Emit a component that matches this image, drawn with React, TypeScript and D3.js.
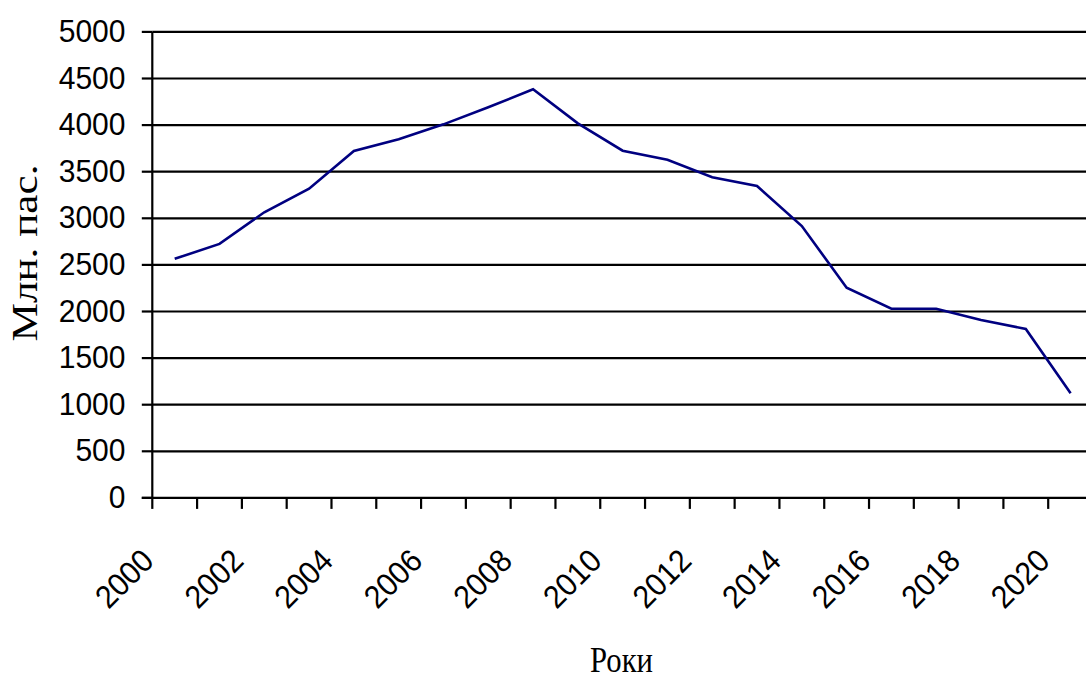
import React, { useEffect, useRef } from "react";
import * as d3 from "d3";

const years: string[] = [
  "2000","2001","2002","2003","2004","2005","2006","2007","2008","2009","2010",
  "2011","2012","2013","2014","2015","2016","2017","2018","2019","2020",
];
const passengers: number[] = [
  2565, 2725, 3065, 3318, 3722, 3848, 4008, 4191, 4384, 4019, 3725,
  3629, 3440, 3347, 2917, 2255, 2030, 2030, 1909, 1812, 1122,
];
const yTicks: number[] = [0, 500, 1000, 1500, 2000, 2500, 3000, 3500, 4000, 4500, 5000];
const xLabelYears: string[] = ["2000","2002","2004","2006","2008","2010","2012","2014","2016","2018","2020"];
const yTitle = "Млн. пас.";
const xTitle = "Роки";

const W = 1086;
const H = 679;

export default function App() {
  const ref = useRef<SVGSVGElement>(null);

  useEffect(() => {
    const svg = d3.select(ref.current);
    svg.selectAll("*").remove();

    const left = 152.3;
    const right = 1093;
    const top = 31.9;
    const bottom = 497.9;

    const x = d3.scaleBand<string>().domain(years).range([left, right]).padding(0);
    const y = d3.scaleLinear().domain([0, 5000]).range([bottom, top]);

    const g = svg.append("g");

    // gridlines
    g.selectAll("line.grid")
      .data(yTicks.filter((t) => t > 0))
      .enter()
      .append("line")
      .attr("x1", left)
      .attr("x2", right)
      .attr("y1", (d) => y(d))
      .attr("y2", (d) => y(d))
      .attr("stroke", "#000")
      .attr("stroke-width", 2.2);

    // y tick marks
    g.selectAll("line.ytick")
      .data(yTicks)
      .enter()
      .append("line")
      .attr("x1", left - 10.5)
      .attr("x2", left)
      .attr("y1", (d) => y(d))
      .attr("y2", (d) => y(d))
      .attr("stroke", "#000")
      .attr("stroke-width", 2.2);

    // y labels
    g.selectAll("text.ylab")
      .data(yTicks)
      .enter()
      .append("text")
      .attr("x", 125.5)
      .attr("y", (d) => y(d) + 10)
      .attr("text-anchor", "end")
      .attr("font-family", "'Liberation Sans', Arial, sans-serif")
      .attr("font-size", 31.5)
      .attr("textLength", (d) => String(d).length * 16.7)
      .attr("lengthAdjust", "spacingAndGlyphs")
      .attr("fill", "#000")
      .text((d) => String(d));

    // axes
    g.append("line")
      .attr("x1", left).attr("x2", left)
      .attr("y1", top).attr("y2", bottom)
      .attr("stroke", "#000").attr("stroke-width", 2.2);
    g.append("line")
      .attr("x1", left - 10.5).attr("x2", right)
      .attr("y1", bottom).attr("y2", bottom)
      .attr("stroke", "#000").attr("stroke-width", 2.2);

    // x tick marks (band boundaries)
    const boundaries = years.map((yr) => x(yr) as number).concat([right]);
    g.selectAll("line.xtick")
      .data(boundaries)
      .enter()
      .append("line")
      .attr("x1", (d) => d)
      .attr("x2", (d) => d)
      .attr("y1", bottom)
      .attr("y2", bottom + 11)
      .attr("stroke", "#000")
      .attr("stroke-width", 2.2);

    // x labels rotated
    g.selectAll("text.xlab")
      .data(xLabelYears)
      .enter()
      .append("text")
      .attr("transform", (d) => {
        const cx = (x(d) as number) + x.bandwidth() / 2 - 27;
        const cy = bottom + 57;
        return `translate(${cx},${cy}) rotate(-45)`;
      })
      .attr("dy", "0.35em")
      .attr("text-anchor", "end")
      .attr("font-family", "'Liberation Sans', Arial, sans-serif")
      .attr("font-size", 32)
      .attr("textLength", 66.7)
      .attr("lengthAdjust", "spacingAndGlyphs")
      .attr("fill", "#000")
      .text((d) => d);

    // line
    const line = d3
      .line<number>()
      .x((_, i) => (x(years[i]) as number) + x.bandwidth() / 2)
      .y((d) => y(d));
    g.append("path")
      .datum(passengers)
      .attr("d", line)
      .attr("fill", "none")
      .attr("stroke", "#000080")
      .attr("stroke-width", 2.6)
      .attr("stroke-linejoin", "miter");

    // titles
    g.append("text")
      .attr("transform", `translate(37,${253}) rotate(-90)`)
      .attr("text-anchor", "middle")
      .attr("font-family", "'Liberation Serif', 'Times New Roman', serif")
      .attr("font-size", 35)
      .attr("textLength", 177)
      .attr("lengthAdjust", "spacingAndGlyphs")
      .attr("fill", "#000")
      .text(yTitle);

    g.append("text")
      .attr("x", 621.5)
      .attr("y", 672)
      .attr("text-anchor", "middle")
      .attr("font-family", "'Liberation Serif', 'Times New Roman', serif")
      .attr("font-size", 35)
      .attr("textLength", 63)
      .attr("lengthAdjust", "spacingAndGlyphs")
      .attr("fill", "#000")
      .text(xTitle);
  }, []);

  return (
    <svg
      ref={ref}
      width={W}
      height={H}
      style={{ position: "absolute", left: 0, top: 0, background: "#fff", overflow: "hidden" }}
    />
  );
}
